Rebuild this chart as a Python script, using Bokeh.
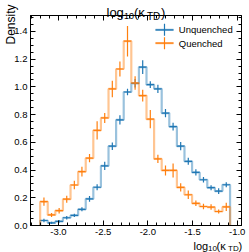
import numpy as np
from bokeh.plotting import figure
from bokeh.models import (Range1d, LinearAxis, SingleIntervalTicker,
                          PrintfTickFormatter, Label, Arrow)
from bokeh.embed import file_html
from bokeh.resources import INLINE

# ---------------- data ----------------
bin_lo = -3.205
bin_hi = -1.080
n_bins = 25

unquenched = [0.036, 0.019, 0.030, 0.056, 0.073, 0.117, 0.192, 0.276, 0.430, 0.572,
              0.762, 0.963, 1.026, 1.143, 1.016, 0.986, 0.811, 0.713, 0.572, 0.463,
              0.383, 0.330, 0.273, 0.248, 0.294]
unquenched_err = [0.012, 0.008, 0.010, 0.012, 0.012, 0.015, 0.020, 0.022, 0.030, 0.027,
                  0.034, 0.024, 0.030, 0.050, 0.024, 0.030, 0.030, 0.028, 0.030, 0.025,
                  0.022, 0.020, 0.018, 0.020, 0.018]
quenched = [0.172, 0.076, 0.107, 0.190, 0.292, 0.388, 0.486, 0.686, 0.776, 0.985,
            1.129, 1.330, 1.028, 0.937, 0.767, 0.480, 0.397, 0.397, 0.275, 0.222,
            0.160, 0.137, 0.133, 0.101, 0.134]
quenched_err = [0.030, 0.015, 0.020, 0.025, 0.030, 0.035, 0.030, 0.066, 0.036, 0.060,
                0.054, 0.110, 0.048, 0.042, 0.066, 0.030, 0.036, 0.050, 0.030, 0.030,
                0.020, 0.020, 0.020, 0.015, 0.030]

series_names = ["Unquenched", "Quenched"]
series_colors = ["#1f77b4", "#ff7f0e"]

x_lim = (-3.313, -0.952)
y_lim = (0.0, 1.515)

FONT = "Liberation Sans"

# ---------------- main figure ----------------
p = figure(width=249, height=252, x_range=Range1d(*x_lim), y_range=Range1d(*y_lim),
           output_backend="svg", toolbar_location=None, title=None,
           min_border_left=30, min_border_right=8, min_border_top=15, min_border_bottom=27)
p.styles = {"position": "absolute", "left": "0px", "top": "0px"}
p.xgrid.visible = False
p.ygrid.visible = False
p.outline_line_color = "black"
p.outline_line_width = 1
p.background_fill_color = "white"
p.border_fill_color = "white"

p.add_layout(LinearAxis(), "above")
p.add_layout(LinearAxis(), "right")


def style_axis(ax, interval, minor, show_labels):
    ax.ticker = SingleIntervalTicker(interval=interval, num_minor_ticks=minor)
    ax.formatter = PrintfTickFormatter(format="%.1f")
    ax.major_tick_in = 5
    ax.major_tick_out = 0
    ax.minor_tick_in = 3
    ax.minor_tick_out = 0
    ax.axis_line_color = "black"
    ax.major_tick_line_color = "black"
    ax.minor_tick_line_color = "black"
    ax.major_label_text_font = FONT
    if show_labels:
        ax.major_label_text_color = "black"
        ax.major_label_text_font_size = "9.5px"
        ax.major_label_standoff = 3
    else:
        ax.major_label_text_color = None
        ax.major_label_text_font_size = "1px"
        ax.major_label_standoff = 0


for ax in p.below:
    style_axis(ax, 0.5, 5, True)
for ax in p.above:
    style_axis(ax, 0.5, 5, False)
for ax in p.left:
    style_axis(ax, 0.2, 4, True)
for ax in p.right:
    style_axis(ax, 0.2, 4, False)

# ---------------- histograms ----------------
edges = np.linspace(bin_lo, bin_hi, n_bins + 1)
centers = 0.5 * (edges[:-1] + edges[1:])

for vals, errs, col in [(unquenched, unquenched_err, series_colors[0]),
                        (quenched, quenched_err, series_colors[1])]:
    v = np.array(vals)
    e = np.array(errs)
    xs = np.repeat(edges, 2)
    ys = np.concatenate([[0.0], np.repeat(v, 2), [0.0]])
    p.line(xs, ys, line_color=col, line_alpha=0.45, line_width=2.2)
    p.segment(x0=edges[:-1], x1=edges[1:], y0=v, y1=v, line_color=col, line_width=1.2)
    p.segment(x0=centers, x1=centers, y0=v - e, y1=v + e, line_color=col, line_width=1.2)


def lab(fig, text, x, y, size, align="left", baseline="alphabetic", angle=0.0, units="screen"):
    fig.add_layout(Label(text=text, x=x, y=y, x_units=units, y_units=units,
                         text_font=FONT, text_font_size=size, text_color="black",
                         text_align=align, text_baseline=baseline, angle=angle))


# ---------------- legend (manual, inside the frame) ----------------
leg_y = [195.7, 182.3]
for name, col, yy in zip(series_names, series_colors, leg_y):
    p.add_layout(Arrow(x_start=125, y_start=yy, x_end=143, y_end=yy,
                       start_units="screen", end_units="screen", start=None, end=None,
                       line_color=col, line_alpha=0.45, line_width=2.2))
    p.add_layout(Arrow(x_start=125, y_start=yy, x_end=143, y_end=yy,
                       start_units="screen", end_units="screen", start=None, end=None,
                       line_color=col, line_width=1.2))
    p.add_layout(Arrow(x_start=134, y_start=yy - 6, x_end=134, y_end=yy + 6,
                       start_units="screen", end_units="screen", start=None, end=None,
                       line_color=col, line_width=1.2))
    lab(p, name, 148.3, yy, "9.5px", baseline="middle")

# ---------------- text overlay (title and axis labels, page pixel coords) ----------------
overlay = figure(width=249, height=252, x_range=Range1d(0, 249), y_range=Range1d(252, 0),
                 output_backend="svg", toolbar_location=None, title=None,
                 x_axis_location=None, y_axis_location=None,
                 min_border_left=0, min_border_right=0, min_border_top=0, min_border_bottom=0)
overlay.styles = {"position": "absolute", "left": "0px", "top": "0px"}
overlay.outline_line_color = None
overlay.background_fill_color = None
overlay.border_fill_color = None
overlay.grid.visible = False

# title: log10(kappa_TD)
lab(overlay, "log", 106, 12.3, "13px", units="data")
lab(overlay, "10", 123.5, 15.5, "9px", units="data")
lab(overlay, "(κ", 133.5, 12.3, "13px", units="data")
lab(overlay, "TD", 146.5, 15.5, "10px", units="data")
lab(overlay, ")", 160.5, 12.3, "13px", units="data")

# x axis label
lab(overlay, "log", 193, 245.5, "11px", units="data")
lab(overlay, "10", 207.5, 248, "8px", units="data")
lab(overlay, "(κ", 216, 245.5, "11px", units="data")
lab(overlay, "TD", 227.5, 248, "8px", units="data")
lab(overlay, ")", 238, 245.5, "11px", units="data")

# y axis label
lab(overlay, "Density", 3, 4, "12px", align="right", baseline="top",
    angle=np.pi / 2, units="data")

open("out.html", "w").write(file_html([p, overlay], INLINE))
